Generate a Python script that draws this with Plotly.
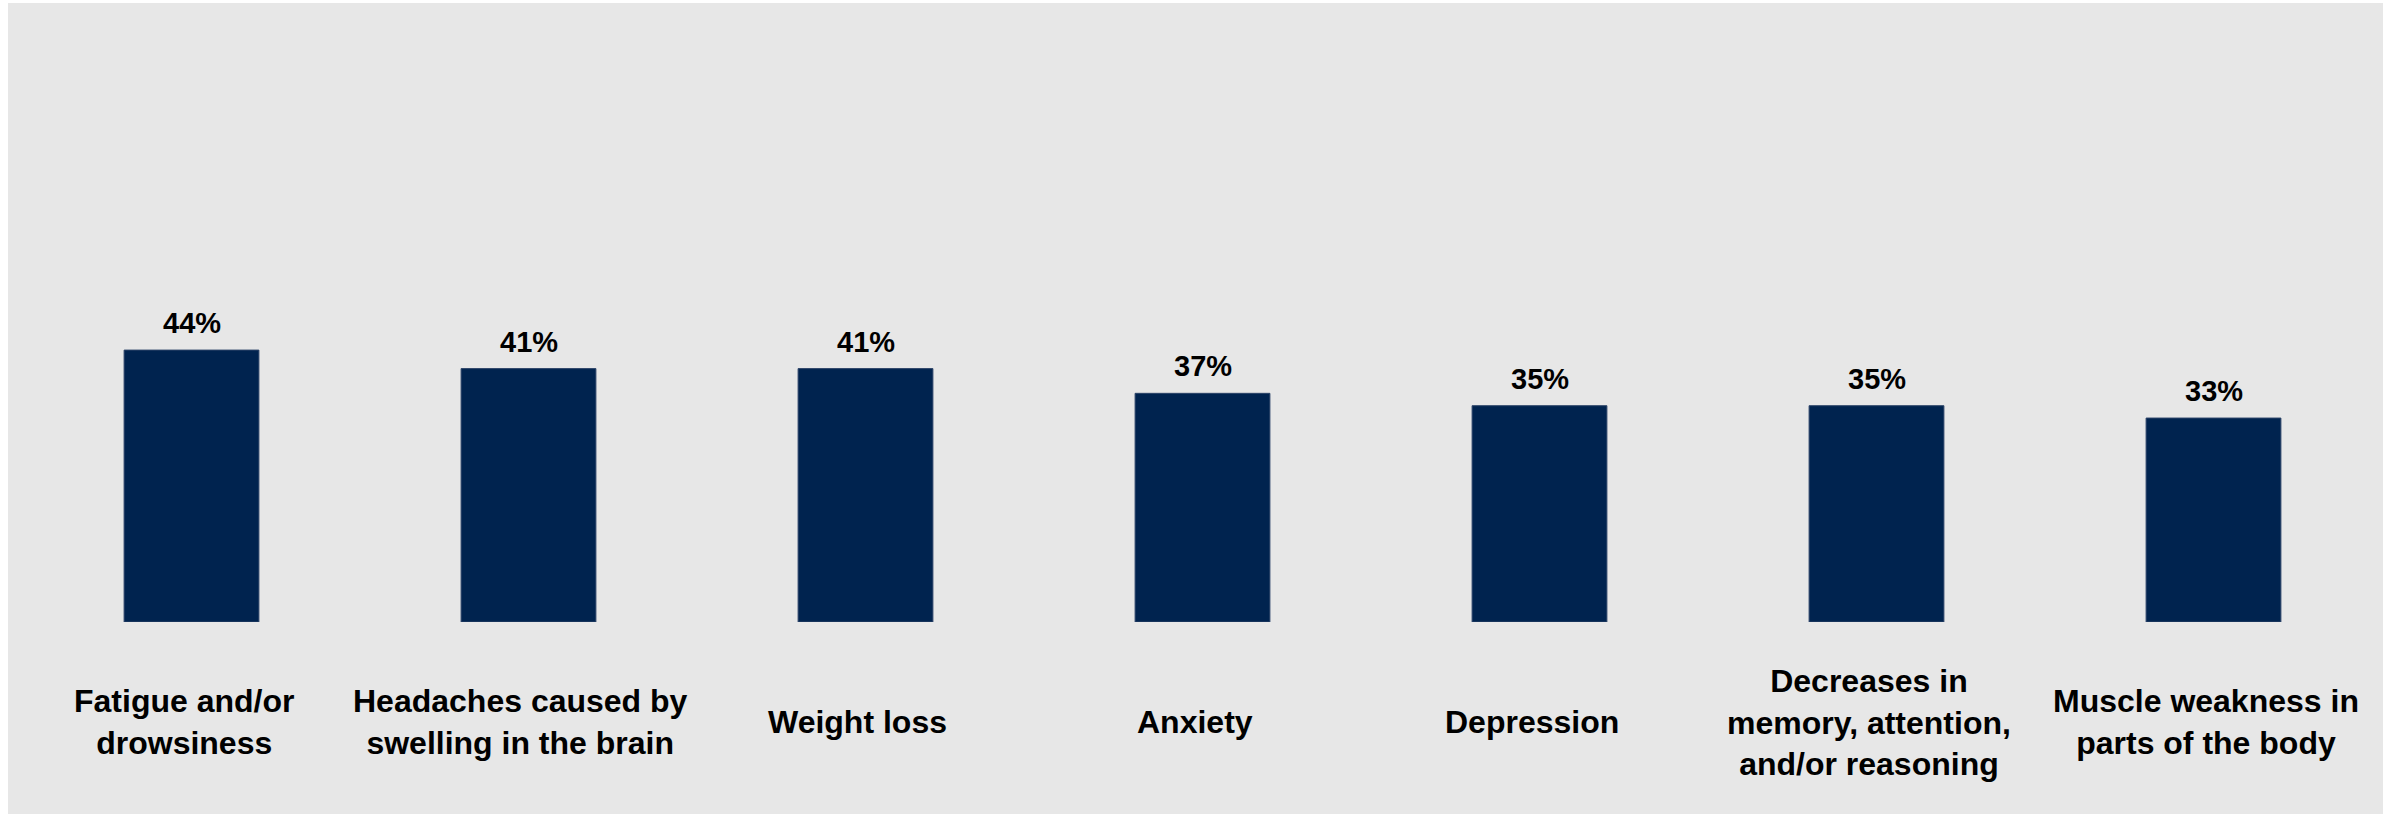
import plotly.graph_objects as go

categories = [
    "Fatigue and/or drowsiness",
    "Headaches caused by swelling in the brain",
    "Weight loss",
    "Anxiety",
    "Depression",
    "Decreases in memory, attention, and/or reasoning",
    "Muscle weakness in parts of the body",
]
tick_labels = [
    "Fatigue and/or<br>drowsiness",
    "Headaches caused by<br>swelling in the brain",
    "Weight loss",
    "Anxiety",
    "Depression",
    "Decreases in<br>memory, attention,<br>and/or reasoning",
    "Muscle weakness in<br>parts of the body",
]
values = [44, 41, 41, 37, 35, 35, 33]

W, H = 2397, 814
ml, mr, mt, mb = 23, 15, 4, 192
plot_h = H - mt - mb
plot_w = W - ml - mr

fig = go.Figure(
    go.Bar(
        x=categories,
        y=values,
        marker=dict(color="#00234F", line=dict(color="#2c4468", width=1)),
        hoverinfo="skip",
    )
)

annotations = []
for c, v in zip(categories, values):
    annotations.append(dict(
        x=c, y=v, xref="x", yref="y", text=f"{v}%", showarrow=False,
        yanchor="middle", yshift=27,
        font=dict(family="Liberation Sans, Arial", size=29, color="#000000", weight="bold"),
    ))
label_y = (mt + plot_h - 722) / plot_h
for c, t in zip(categories, tick_labels):
    annotations.append(dict(
        x=c, y=label_y, xref="x", yref="paper", text=t, showarrow=False,
        yanchor="middle", xanchor="center", align="center", xshift=-8,
        font=dict(family="Liberation Sans, Arial", size=32, color="#000000", weight="bold"),
    ))

fig.update_layout(
    width=W, height=H,
    margin=dict(l=ml, r=mr, t=mt, b=mb, pad=0),
    paper_bgcolor="#ffffff",
    plot_bgcolor="rgba(0,0,0,0)",
    bargap=0.6,
    showlegend=False,
    annotations=annotations,
    shapes=[dict(
        type="rect", xref="paper", yref="paper", layer="below",
        x0=(8 - ml) / plot_w, x1=(2383 - ml) / plot_w,
        y0=(mt + plot_h - H) / plot_h, y1=(mt + plot_h - 3) / plot_h,
        fillcolor="#e7e7e7", line=dict(width=0),
    )],
    xaxis=dict(visible=False),
    yaxis=dict(visible=False, range=[0, 100]),
)

fig.write_html(
    "out.html",
    config={"displayModeBar": False},
    post_script="document.body.style.margin='0';document.body.style.overflow='hidden';",
)
